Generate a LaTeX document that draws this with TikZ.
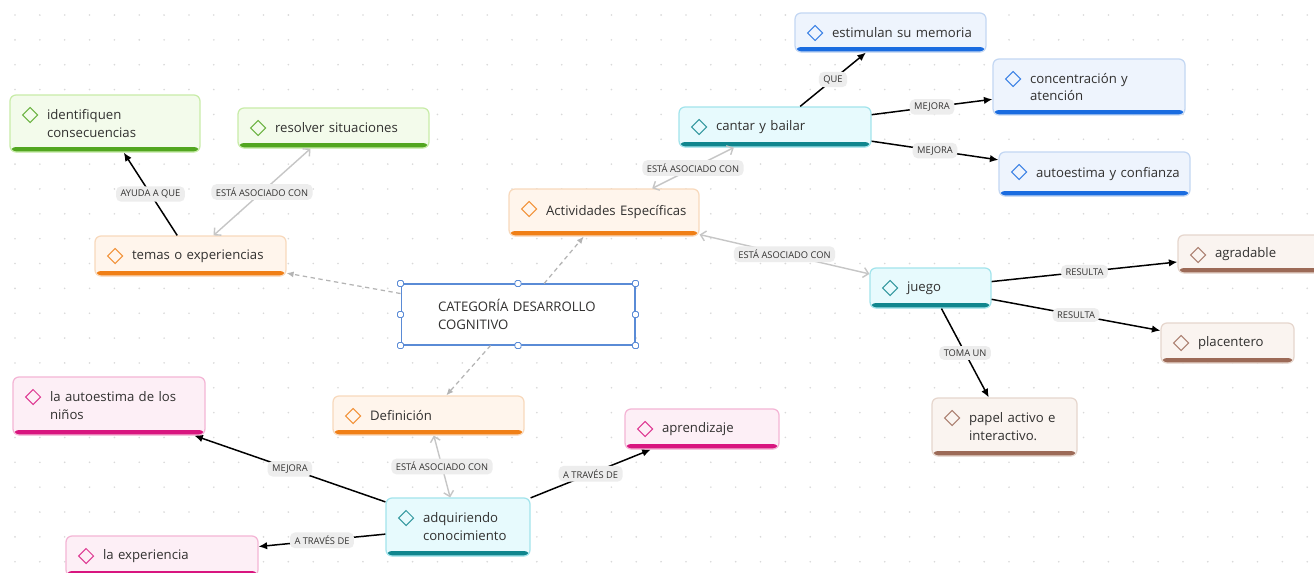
\documentclass[tikz,border=0pt]{standalone}
\usepackage{fontspec}
\setsansfont{Open Sans}
\usetikzlibrary{arrows.meta}

\definecolor{txt}{HTML}{323130}
\definecolor{dotc}{HTML}{D9D9D9}
\definecolor{tagbg}{HTML}{EDEDED}
\definecolor{selblue}{HTML}{5A8BD6}
\definecolor{assocgray}{HTML}{C6C6C6}
\definecolor{dashgray}{HTML}{B4B4B4}
% card colours: fill, line, bar
\definecolor{greenfill}{HTML}{F3FBEB}\definecolor{greenline}{HTML}{C8ECA8}\definecolor{greenbar}{HTML}{52A620}
\definecolor{orangefill}{HTML}{FFF5EC}\definecolor{orangeline}{HTML}{F8D9BC}\definecolor{orangebar}{HTML}{F07F16}
\definecolor{bluefill}{HTML}{EEF4FD}\definecolor{blueline}{HTML}{C3D7F3}\definecolor{bluebar}{HTML}{1A6CE0}
\definecolor{cyanfill}{HTML}{E7FAFD}\definecolor{cyanline}{HTML}{A2E4EC}\definecolor{cyanbar}{HTML}{10868E}
\definecolor{brownfill}{HTML}{FAF4F0}\definecolor{brownline}{HTML}{E6D6CD}\definecolor{brownbar}{HTML}{9C6A57}
\definecolor{pinkfill}{HTML}{FDEFF6}\definecolor{pinkline}{HTML}{F4B5D5}\definecolor{pinkbar}{HTML}{D8157F}

\tikzset{
  card/.style={rounded corners=0.12cm, line width=0.7pt, inner xsep=0.2cm, inner ysep=0.1cm,
    align=left, text=txt, font=\sffamily\fontsize{7.5}{10.2}\selectfont,
    execute at begin node={\leftskip=0.54cm}},
  cw/.style={minimum width=#1cm, text width=#1cm-0.4cm},
  tone/.style={fill=#1fill, draw=#1line,
    path picture={
      \fill[#1bar] ([yshift=0.1cm]path picture bounding box.south west) rectangle (path picture bounding box.south east);
      \draw[#1bar!85!white, line width=0.6pt, sharp corners] ([xshift=0.4cm,yshift=-0.4cm]path picture bounding box.north west)
        +(-0.15cm,0) -- +(0,0.15cm) -- +(0.15cm,0) -- +(0,-0.15cm) -- cycle;
    }},
  root/.style={card, sharp corners, fill=white, draw=selblue, line width=0.6pt},
  tag/.style={fill=tagbg, text=txt, font=\sffamily\fontsize{5.3}{6}\selectfont,
    rounded corners=0.1cm, inner xsep=0.09cm, inner ysep=0.07cm},
  link/.style={line width=0.85pt, -{Latex[length=0.17cm,width=0.15cm]}},
  assoc/.style={assocgray, line width=0.8pt, {Straight Barb[length=0.1cm,width=0.2cm]}-{Straight Barb[length=0.1cm,width=0.2cm]}},
  branch/.style={dashgray, line width=0.7pt, dash pattern=on 2.5pt off 2pt, -{Latex[length=0.14cm,width=0.12cm]}}
}

\begin{document}
\begin{tikzpicture}[x=0.02cm, y=-0.02cm]
  \path[use as bounding box, clip] (0,0) rectangle (1314,572);
  \fill[white] (0,0) rectangle (1314,572);
  \foreach \i in {0,...,52} {
    \foreach \j in {0,...,22} {
      \fill[dotc] (15+24.85*\i, 15+24.85*\j) circle[radius=0.018cm];
    }
  }

  % central topic
  \node[root, cw=4.68, minimum height=1.22cm] (cat) at (518,314.5) {CATEGORÍA DESARROLLO\\COGNITIVO};
  \foreach \a in {north west,north,north east,east,south east,south,south west,west}
    \draw[selblue, fill=white, line width=0.5pt, rounded corners=0.8pt] (cat.\a) +(-3,-3) rectangle +(3,3);

  % left branch
  \node[card, tone=orange, cw=3.82, minimum height=0.8cm] (temas) at (190.5,256) {temas o experiencias};
  \node[card, tone=green, cw=3.8, minimum height=1.14cm] (ident) at (105,123.5) {identifiquen\\consecuencias};
  \node[card, tone=green, cw=3.82, minimum height=0.8cm] (resolver) at (333.5,128) {resolver situaciones};

  % upper branch
  \node[card, tone=orange, cw=3.8, minimum height=0.94cm] (activ) at (604,212.5) {Actividades Específicas};
  \node[card, tone=cyan, cw=3.84, minimum height=0.8cm] (cantar) at (775,127) {cantar y bailar};
  \node[card, tone=blue, cw=3.82, minimum height=0.78cm] (estim) at (890.5,32.5) {estimulan su memoria};
  \node[card, tone=blue, cw=3.84, minimum height=1.12cm] (concen) at (1089,87) {concentración y\\atención};
  \node[card, tone=blue, cw=3.82, minimum height=0.88cm] (autoconf) at (1094.5,174) {autoestima y confianza};
  \node[card, tone=cyan, cw=2.42, minimum height=0.8cm] (juego) at (930.5,288) {juego};
  \node[card, tone=brown, cw=3.0, minimum height=0.76cm] (agrad) at (1253,254) {agradable};
  \node[card, tone=brown, cw=2.66, minimum height=0.8cm] (placen) at (1227.5,343) {placentero};
  \node[card, tone=brown, cw=2.9, minimum height=1.16cm] (papel) at (1004.5,427) {papel activo e\\interactivo.};

  % lower branch
  \node[card, tone=orange, cw=3.82, minimum height=0.78cm] (defin) at (428.5,415.5) {Definición};
  \node[card, tone=cyan, cw=2.88, minimum height=1.16cm] (adqui) at (458,527) {adquiriendo\\conocimiento};
  \node[card, tone=pink, cw=3.84, minimum height=1.16cm] (autonin) at (109,406) {la autoestima de los\\niños};
  \node[card, tone=pink, cw=3.08, minimum height=0.8cm] (aprend) at (702,429) {aprendizaje};
  \node[card, tone=pink, cw=3.84, minimum height=0.8cm] (exper) at (162,556) {la experiencia};

  % connectors
  \draw[branch] (cat) -- (temas);
  \draw[branch] (cat) -- (activ);
  \draw[branch] (cat) -- (defin);

  \draw[link] (temas) -- node[tag] (ayuda) {AYUDA A QUE} (ident);
  \draw[assoc] (temas) -- node[tag] (asoc1) {ESTÁ ASOCIADO CON} (resolver);

  \draw[assoc] (activ) -- node[tag] (asoc2) {ESTÁ ASOCIADO CON} (cantar);
  \draw[assoc] (activ) -- node[tag] (asoc3) {ESTÁ ASOCIADO CON} (juego);
  \draw[link] (cantar) -- node[tag] (que) {QUE} (estim);
  \draw[link] (cantar) -- node[tag] (mejora1) {MEJORA} (concen);
  \draw[link] (cantar) -- node[tag] (mejora2) {MEJORA} (autoconf);
  \draw[link] (juego) -- node[tag] (resulta1) {RESULTA} (agrad);
  \draw[link] (juego) -- node[tag] (resulta2) {RESULTA} (placen);
  \draw[link] (juego) -- node[tag] (toma) {TOMA UN} (papel);

  \draw[assoc] (defin) -- node[tag] (asoc4) {ESTÁ ASOCIADO CON} (adqui);
  \draw[link] (adqui) -- node[tag] (mejora3) {MEJORA} (autonin);
  \draw[link] (adqui) -- node[tag] (traves1) {A TRAVÉS DE} (aprend);
  \draw[link] (adqui) -- node[tag] (traves2) {A TRAVÉS DE} (exper);
\end{tikzpicture}
\end{document}
